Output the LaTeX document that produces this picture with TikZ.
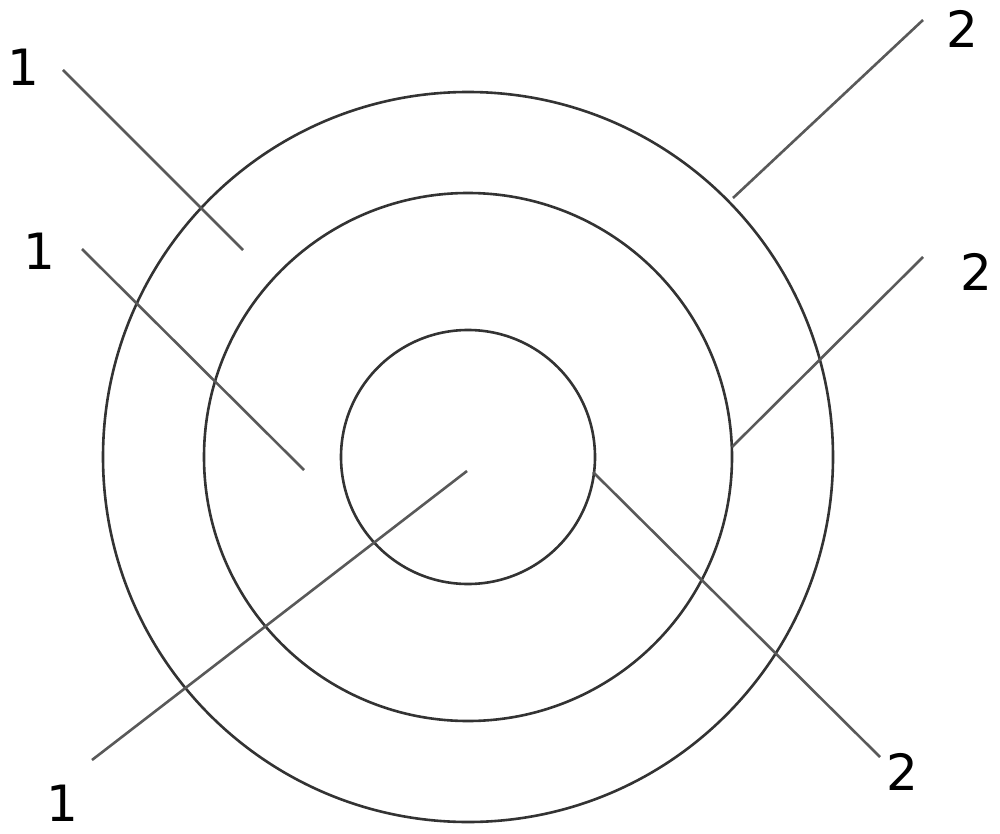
\documentclass[tikz,border=0pt]{standalone}
\usepackage{fontspec}
\setmainfont{DejaVu Sans}
\begin{document}
\begin{tikzpicture}[x=1pt,y=-1pt,
  ring/.style={circle,draw=black!80,line width=2.6pt,inner sep=0pt},
  leader/.style={draw=black!65,line width=2.6pt},
  lbl/.style={inner sep=0pt,font=\fontsize{50}{60}\selectfont}]
\useasboundingbox (0,0) rectangle (1000,834);
\coordinate (c) at (468,457);
\node[ring,minimum size=730pt] (outer) at (c) {};
\node[ring,minimum size=528pt] (middle) at (c) {};
\node[ring,minimum size=254pt] (inner) at (c) {};
% labels
\node[lbl] (l1a) at (23,67) {1};
\node[lbl] (l1b) at (39,251) {1};
\node[lbl] (l1c) at (62,803) {1};
\node[lbl] (l2a) at (962,29) {2};
\node[lbl] (l2b) at (976,272) {2};
\node[lbl] (l2c) at (902,772) {2};
% leader ends
\coordinate (s1a) at (63,70);   \coordinate (e1a) at (243,250);
\coordinate (s1b) at (82,249);  \coordinate (e1b) at (304,470);
\coordinate (s1c) at (92,760);  \coordinate (e1c) at (467,471);
\coordinate (s2a) at (923,20);  \coordinate (e2a) at (733,198);
\coordinate (s2b) at (923,257); \coordinate (e2b) at (732,447);
\coordinate (s2c) at (880,757); \coordinate (e2c) at (593,472);
\draw[leader] (s1a) -- (e1a);
\draw[leader] (s1b) -- (e1b);
\draw[leader] (s1c) -- (e1c);
\draw[leader] (s2a) -- (e2a);
\draw[leader] (s2b) -- (e2b);
\draw[leader] (s2c) -- (e2c);
\end{tikzpicture}
\end{document}
